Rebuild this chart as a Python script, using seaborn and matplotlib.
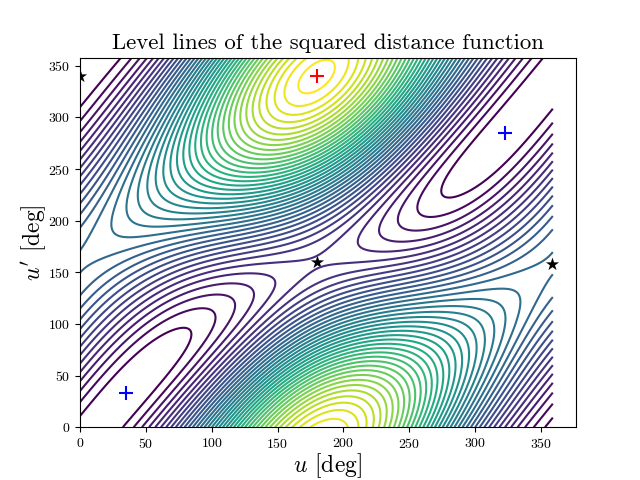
import numpy as np
import matplotlib
matplotlib.use('Agg')
import matplotlib.pyplot as plt
import seaborn as sns

# orbit elements estimated from the positions of the critical points in the picture
# (the level lines are the squared distance between the two ellipses, so the field
# is computed from these on the u,u' grid)
semi_axes = [1.0, 0.636]
eccentricities = [0.433, 0.02]
apse_angle = 20.0
level_step = 0.1045
n_levels = 40

# critical points
minima_u = [35, 323]
minima_up = [33, 285]
maxima_u = [180]
maxima_up = [340]
saddle_u = [180, 358, 0]
saddle_up = [160, 158, 340]

plt.rcParams['mathtext.fontset'] = 'cm'
plt.rcParams['font.family'] = ['cmr10', 'DejaVu Serif']
plt.rcParams['axes.formatter.use_mathtext'] = True

u_deg = np.arange(0, 360, 1.0)
up_deg = np.arange(0, 359, 1.0)
U, UP = np.meshgrid(np.radians(u_deg), np.radians(up_deg))

a, a2 = semi_axes
e, e2 = eccentricities
w = np.radians(apse_angle)
x1 = a*(np.cos(U)-e)
y1 = a*np.sqrt(1-e**2)*np.sin(U)
p2 = a2*(np.cos(UP)-e2)
q2 = a2*np.sqrt(1-e2**2)*np.sin(UP)
x2 = p2*np.cos(w)-q2*np.sin(w)
y2 = p2*np.sin(w)+q2*np.cos(w)
d2 = (x1-x2)**2+(y1-y2)**2

fig, ax = plt.subplots(figsize=(6.4, 4.8), dpi=100)
levels = level_step*np.arange(1, n_levels+1)
ax.contour(u_deg, up_deg, d2, levels=levels, cmap=sns.color_palette('viridis', as_cmap=True), linewidths=1.5)

sns.scatterplot(x=minima_u, y=minima_up, marker='+', color='blue', s=110, linewidth=1.5, ax=ax)
sns.scatterplot(x=maxima_u, y=maxima_up, marker='+', color='red', s=110, linewidth=1.5, ax=ax)
sns.scatterplot(x=saddle_u, y=saddle_up, marker='*', color='black', s=100, linewidth=0, ax=ax)

ax.set_xlim(0, 376.6)
ax.set_ylim(0, 358)
ax.set_xlabel(r"$u$ [deg]", fontsize=17, labelpad=0)
ax.set_ylabel(r"$u'$ [deg]", fontsize=17, labelpad=0)
ax.set_title("Level lines of the squared distance function", fontsize=16.4)
ax.tick_params(labelsize=10)
fig.savefig('out.png', dpi=100)
